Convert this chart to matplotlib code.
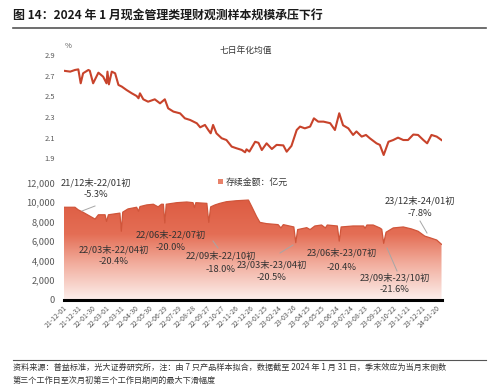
import matplotlib
matplotlib.use("Agg")
import matplotlib.pyplot as plt
import matplotlib.dates as mdates
import numpy as np
import pandas as pd
from matplotlib.colors import LinearSegmentedColormap
from matplotlib.patches import Patch, Polygon
from matplotlib.lines import Line2D

plt.rcParams['font.family'] = ['Noto Sans CJK SC', 'DejaVu Sans']

title = "图 14：2024 年 1 月现金管理类理财观测样本规模承压下行"
footer1 = "资料来源：普益标准，光大证券研究所，注：由 7 只产品样本拟合，数据截至 2024 年 1 月 31 日，季末效应为当月末倒数"
footer2 = "第三个工作日至次月初第三个工作日期间的最大下滑幅度"
top_label = "七日年化均值"
legend_label = "存续金额：亿元"

# 7-day annualized yield (%)
yield_dates = ["2021-12-01", "2021-12-15", "2021-12-25", "2022-01-01", "2022-01-06", "2022-01-11",
               "2022-01-22", "2022-01-25", "2022-02-01", "2022-02-12", "2022-02-22", "2022-03-01",
               "2022-03-03", "2022-03-06", "2022-03-12", "2022-03-19", "2022-03-26", "2022-04-02",
               "2022-04-12", "2022-04-23", "2022-05-03", "2022-05-07", "2022-05-10", "2022-05-17",
               "2022-05-27", "2022-06-10", "2022-06-21", "2022-07-01", "2022-07-08", "2022-07-19",
               "2022-08-02", "2022-08-12", "2022-08-23", "2022-09-06", "2022-09-13", "2022-09-23",
               "2022-09-30", "2022-10-05", "2022-10-10", "2022-10-17", "2022-10-28", "2022-11-07",
               "2022-11-18", "2022-11-28", "2022-12-09", "2022-12-16", "2022-12-19", "2022-12-25",
               "2023-01-06", "2023-01-13", "2023-01-20", "2023-01-30", "2023-02-10", "2023-02-20",
               "2023-03-06", "2023-03-13", "2023-03-23", "2023-04-03", "2023-04-10", "2023-04-20",
               "2023-05-01", "2023-05-09", "2023-05-18", "2023-05-29", "2023-06-12", "2023-06-22",
               "2023-07-01", "2023-07-09", "2023-07-20", "2023-07-30", "2023-08-06", "2023-08-17",
               "2023-08-26", "2023-09-03", "2023-09-17", "2023-09-24", "2023-10-02", "2023-10-12",
               "2023-10-22", "2023-11-01", "2023-11-12", "2023-11-22", "2023-12-03", "2023-12-13",
               "2023-12-24", "2024-01-01", "2024-01-10", "2024-01-21", "2024-01-31"]
yield_vals = [2.748, 2.739, 2.755, 2.761, 2.626, 2.723,
              2.755, 2.748, 2.626, 2.729, 2.690, 2.626,
              2.739, 2.616, 2.739, 2.723, 2.610, 2.594,
              2.561, 2.529, 2.503, 2.481, 2.529, 2.471,
              2.448, 2.471, 2.432, 2.471, 2.384, 2.352,
              2.335, 2.287, 2.271, 2.239, 2.200, 2.223,
              2.174, 2.142, 2.223, 2.142, 2.094, 2.077,
              2.013, 1.997, 1.981, 1.958, 1.987, 1.965,
              2.060, 2.050, 1.980, 2.045, 1.990, 2.030,
              2.025, 1.964, 2.020, 2.174, 2.207, 2.190,
              2.207, 2.287, 2.255, 2.255, 2.240, 2.174,
              2.336, 2.220, 2.190, 2.126, 2.160, 2.110,
              2.126, 2.094, 2.045, 2.030, 1.932, 2.060,
              2.077, 2.100, 2.077, 2.077, 2.130, 2.126,
              2.077, 2.045, 2.126, 2.110, 2.077]

# Outstanding amount (100 million yuan)
amt_dates = ["2021-12-01", "2021-12-25", "2022-01-01", "2022-01-09", "2022-02-05", "2022-02-12",
             "2022-02-26", "2022-03-01", "2022-03-05", "2022-03-29", "2022-04-01", "2022-04-04",
             "2022-04-15", "2022-05-03", "2022-05-07", "2022-05-10", "2022-05-24", "2022-06-07",
             "2022-06-17", "2022-06-24", "2022-06-28", "2022-07-01", "2022-07-04", "2022-07-26",
             "2022-08-16", "2022-08-29", "2022-09-01", "2022-09-04", "2022-09-27", "2022-10-01",
             "2022-10-05", "2022-10-14", "2022-10-24", "2022-11-07", "2022-11-28", "2022-12-23",
             "2022-12-30", "2023-01-09", "2023-01-16", "2023-01-30", "2023-02-23", "2023-03-01",
             "2023-03-06", "2023-03-28", "2023-04-01", "2023-04-05", "2023-04-24", "2023-05-01",
             "2023-05-11", "2023-05-25", "2023-06-02", "2023-06-06", "2023-06-27", "2023-07-01",
             "2023-07-05", "2023-07-30", "2023-08-21", "2023-08-24", "2023-08-28", "2023-09-10",
             "2023-09-24", "2023-09-28", "2023-10-02", "2023-10-07", "2023-10-22", "2023-11-12",
             "2023-11-29", "2023-12-13", "2023-12-27", "2024-01-07", "2024-01-21", "2024-01-31"]
amt_vals = [9460, 9460, 9190, 9000, 8250, 8690,
            8690, 8010, 8690, 8860, 7000, 8960,
            9290, 9460, 9050, 9530, 9700, 9770,
            9500, 9770, 9770, 7850, 9770, 9930,
            10000, 9930, 9430, 9930, 9860, 7910,
            9500, 9700, 9860, 10030, 10130, 10200,
            9520, 8510, 7910, 7780, 7680, 7340,
            7680, 7440, 5830, 7170, 7370, 7170,
            7540, 7640, 7340, 7640, 7540, 5990,
            7440, 7540, 7540, 7300, 7640, 7640,
            7340, 7200, 5760, 6900, 7340, 7440,
            7240, 7000, 6500, 6330, 6100, 5660]

# Annotations
ann_labels = ["21/12末-22/01初", "22/03末-22/04初", "22/06末-22/07初", "22/09末-22/10初",
              "23/03末-23/04初", "23/06末-23/07初", "23/09末-23/10初", "23/12末-24/01初"]
ann_changes = ["-5.3%", "-20.4%", "-20.0%", "-18.0%", "-20.5%", "-20.4%", "-21.6%", "-7.8%"]

yd = pd.to_datetime(yield_dates)
ad = pd.to_datetime(amt_dates)
start = pd.Timestamp("2021-12-01")
end = pd.Timestamp("2024-01-31")
tick_dates = pd.date_range(start, end, freq="30D")

W, H = 500, 389
fig = plt.figure(figsize=(5.0, 3.89), dpi=100)

def fx(x):
    return x / W

def fy(y):
    return 1 - y / H

gray = "#595959"
red = "#C8432B"

# Title and rules
fig.text(fx(13), fy(15), title, fontsize=8.6, fontweight="bold", color="#1a1a1a",
         va="center", ha="left")
fig.add_artist(Line2D([fx(13), fx(486)], [fy(27.5), fy(27.5)], color="#555555", lw=1.2))
fig.add_artist(Line2D([fx(13), fx(486)], [fy(359.5), fy(359.5)], color="#555555", lw=0.8))
fig.text(fx(13), fy(367), footer1, fontsize=5.85, color="#333333", va="center", ha="left")
fig.text(fx(13), fy(380), footer2, fontsize=5.85, color="#333333", va="center", ha="left")

# ---- Top axes: yield ----
ax1 = fig.add_axes([fx(63.5), fy(158.3), fx(441.5 - 63.5), (158.3 - 55) / H])
ax1.plot(yd, yield_vals, color=red, lw=1.5)
ax1.set_xlim(start, end)
ax1.set_ylim(1.9, 2.9)
ax1.set_yticks(np.arange(1.9, 2.91, 0.2))
ax1.set_yticklabels([f"{v:.1f}" for v in np.arange(1.9, 2.91, 0.2)])
ax1.tick_params(axis="y", length=0, labelsize=5.4, colors=gray, pad=6)
ax1.tick_params(axis="x", length=0, labelbottom=False)
for s in ax1.spines.values():
    s.set_visible(False)
fig.text(fx(68), fy(46), "%", fontsize=5.5, color=gray, va="center", ha="center")
fig.text(fx(246), fy(50), top_label, fontsize=6.3, color="#333333", va="center", ha="center")

# ---- Bottom axes: amount ----
ax2 = fig.add_axes([fx(63.5), fy(299.5), fx(441.5 - 63.5), (299.5 - 182.5) / H])
ax2.set_xlim(start, end)
ax2.set_ylim(0, 12000)
xnum = mdates.date2num(ad)
poly_x = np.concatenate([[xnum[0]], xnum, [xnum[-1]]])
poly_y = np.concatenate([[0], amt_vals, [0]])
poly = Polygon(np.column_stack([poly_x, poly_y]), closed=True, facecolor="none",
               edgecolor="none", transform=ax2.transData)
ax2.add_patch(poly)
cmap = LinearSegmentedColormap.from_list(
    "g", [(0.0, "#FCEDEA"), (0.35, "#F2AE9E"), (0.65, "#E46E55"), (1.0, "#DD5C42")])
grad = np.linspace(0, 1, 256).reshape(-1, 1)
im = ax2.imshow(grad, cmap=cmap, aspect="auto", origin="lower",
                extent=[xnum[0], xnum[-1], 0, 10200], zorder=1, interpolation="bilinear")
im.set_clip_path(poly)
ax2.plot(ad, amt_vals, color="#D0553A", lw=0.9, zorder=2)
ax2.set_yticks(np.arange(0, 12001, 2000))
ax2.set_yticklabels([f"{int(v):,}" for v in np.arange(0, 12001, 2000)])
ax2.tick_params(axis="y", length=0, labelsize=6.7, colors=gray, pad=6)
ax2.set_xticks(tick_dates)
ax2.set_xticklabels([d.strftime("%y-%m-%d") for d in tick_dates], rotation=45,
                    ha="right", rotation_mode="anchor")
ax2.tick_params(axis="x", length=0, labelsize=5.0, colors=gray, pad=3)
for k in ["top", "right", "left"]:
    ax2.spines[k].set_visible(False)
ax2.spines["bottom"].set_color("black")
ax2.spines["bottom"].set_linewidth(2.2)
ax2.spines["bottom"].set_zorder(5)

leg = ax2.legend(handles=[Patch(facecolor="#E8826A", edgecolor="none")], labels=[legend_label],
                 loc="center left", bbox_to_anchor=(fx(214), fy(182)), bbox_transform=fig.transFigure,
                 frameon=False, fontsize=6.4, handlelength=0.5, handleheight=0.5,
                 handletextpad=0.3, borderpad=0)
for t in leg.get_texts():
    t.set_color("#333333")

# annotation text layout (figure pixel positions)
ann_pos = [(96, 183, 195), (114, 250, 261), (171, 235, 248), (221, 256, 270),
           (272, 265, 278), (342, 253, 267), (395, 278, 289), (420, 201, 214)]
lead = [((95, 206), (82, 211)), None, None, ((213, 241), (218, 248)),
        ((280, 253), (293, 245)), None, ((387, 248), (397, 271)), ((420, 221), (427, 233))]
for (lab, ch, (cx, y1, y2), ln) in zip(ann_labels, ann_changes, ann_pos, lead):
    fig.text(fx(cx), fy(y1), lab, fontsize=6.7, color="#333333", ha="center", va="center")
    fig.text(fx(cx), fy(y2), ch, fontsize=6.7, color="#333333", ha="center", va="center")
    if ln is not None:
        fig.add_artist(Line2D([fx(ln[0][0]), fx(ln[1][0])], [fy(ln[0][1]), fy(ln[1][1])],
                              color="#A6A6A6", lw=0.7))

fig.savefig("out.png", dpi=100)
